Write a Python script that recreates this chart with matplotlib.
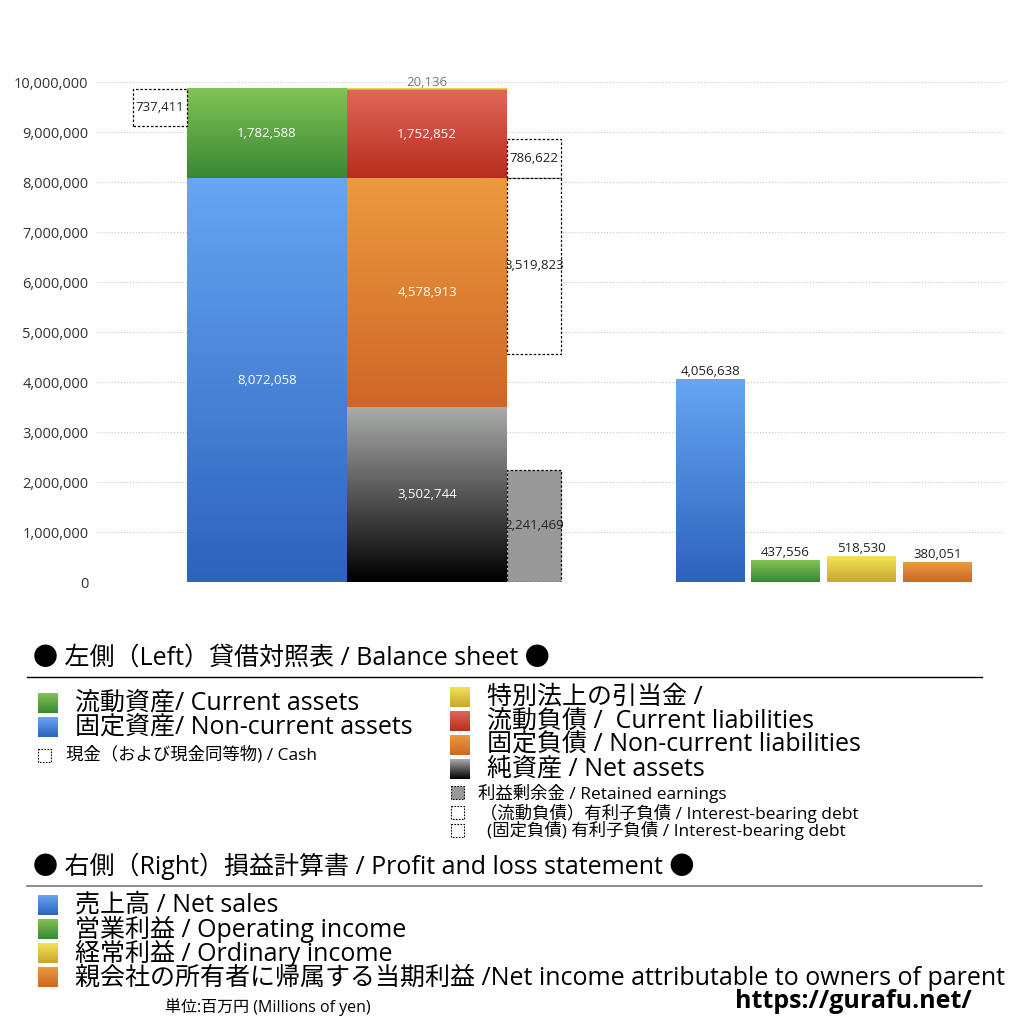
import numpy as np
import matplotlib
matplotlib.use("Agg")
import matplotlib.pyplot as plt
import matplotlib.colors as mcolors
from matplotlib.patches import Rectangle

plt.rcParams['font.family'] = ['Open Sans', 'Noto Sans CJK JP', 'DejaVu Sans']

# 貸借対照表 (百万円)
current_assets = 1782588
noncurrent_assets = 8072058
cash = 737411
net_assets = 3502744
noncurrent_liab = 4578913
current_liab = 1752852
special_reserve = 20136
retained_earnings = 2241469
cur_debt = 786622
fixed_debt = 3519823

# 損益計算書
pl_names = ["売上高", "営業利益", "経常利益", "当期利益"]
pl_values = [4056638, 437556, 518530, 380051]

yticks = [0, 1000000, 2000000, 3000000, 4000000, 5000000,
          6000000, 7000000, 8000000, 9000000, 10000000]

BLUE = ("#66a6f2", "#2e62bd")
GREEN = ("#82c355", "#388833")
RED = ("#e0665a", "#b72e1c")
ORANGE = ("#eb9a3e", "#cf6628")
BLACK = ("#aaacaa", "#000000")
YELLOW = ("#f3e455", "#c8a530")


def grad(ax, x0, x1, y0, y1, cols, z=2):
    t = np.linspace(0, 1, 128)[:, None]
    top = np.array(mcolors.to_rgb(cols[0]))
    bot = np.array(mcolors.to_rgb(cols[1]))
    arr = ((1 - t) * top + t * bot)[:, None, :]
    ax.imshow(arr, extent=(x0, x1, y0, y1), origin='upper', aspect='auto',
              interpolation='bilinear', zorder=z)


fig = plt.figure(figsize=(10.24, 10.24), dpi=100)
W = 1024
ax = fig.add_axes([97 / W, (W - 582) / W, (1005 - 97) / W, 500 / W])

VAL = 9.5

# 左側: 資産
grad(ax, 187, 347, 0, noncurrent_assets, BLUE)
grad(ax, 187, 347, noncurrent_assets, noncurrent_assets + current_assets, GREEN)
total_assets = noncurrent_assets + current_assets
ax.add_patch(Rectangle((133, total_assets - cash), 54, cash, fill=True, fc='white',
                       ec='black', ls=(0, (2, 1.5)), lw=0.9, zorder=3))
ax.text(160, total_assets - cash / 2, f"{cash:,}", ha='center', va='center',
        fontsize=VAL, color='#222', zorder=4)
ax.text(267, noncurrent_assets / 2, f"{noncurrent_assets:,}", ha='center', va='center',
        fontsize=VAL, color='white', zorder=4)
ax.text(267, noncurrent_assets + current_assets / 2, f"{current_assets:,}", ha='center',
        va='center', fontsize=VAL, color='white', zorder=4)

# 左側: 負債・純資産
y1 = net_assets
y2 = y1 + noncurrent_liab
y3 = y2 + current_liab
y4 = y3 + special_reserve
grad(ax, 347, 507, 0, y1, BLACK)
grad(ax, 347, 507, y1, y2, ORANGE)
grad(ax, 347, 507, y2, y3, RED)
grad(ax, 347, 507, y3, y4, YELLOW)
ax.text(427, y1 / 2, f"{net_assets:,}", ha='center', va='center', fontsize=VAL,
        color='white', zorder=4)
ax.text(427, (y1 + y2) / 2, f"{noncurrent_liab:,}", ha='center', va='center',
        fontsize=VAL, color='white', zorder=4)
ax.text(427, (y2 + y3) / 2, f"{current_liab:,}", ha='center', va='center',
        fontsize=VAL, color='white', zorder=4)
ax.text(427, y4 + 10000, f"{special_reserve:,}", ha='center', va='bottom',
        fontsize=VAL, color='#777', zorder=4, clip_on=False)

# 利益剰余金・有利子負債
ax.add_patch(Rectangle((507, 0), 54, retained_earnings, fc='#999999', ec='black',
                       ls=(0, (2, 1.5)), lw=0.9, zorder=3))
ax.text(534, retained_earnings / 2, f"{retained_earnings:,}", ha='center', va='center',
        fontsize=VAL, color='#222', zorder=4)
ax.add_patch(Rectangle((507, y2), 54, cur_debt, fc='white', ec='black',
                       ls=(0, (2, 1.5)), lw=0.9, zorder=3))
ax.text(534, y2 + cur_debt / 2, f"{cur_debt:,}", ha='center', va='center',
        fontsize=VAL, color='#222', zorder=4)
ax.add_patch(Rectangle((507, y2 - fixed_debt), 54, fixed_debt, fc='white', ec='black',
                       ls=(0, (2, 1.5)), lw=0.9, zorder=3))
ax.text(534, y2 - fixed_debt / 2, f"{fixed_debt:,}", ha='center', va='center',
        fontsize=VAL, color='#222', zorder=4)

# 右側: 損益計算書
pl_x = [676, 751, 827, 903]
pl_cols = [BLUE, GREEN, YELLOW, ORANGE]
for x, v, c in zip(pl_x, pl_values, pl_cols):
    grad(ax, x, x + 69, 0, v, c)
    ax.text(x + 34.5, v + 30000, f"{v:,}", ha='center', va='bottom', fontsize=VAL,
            color='#222', zorder=4)

ax.set_xlim(97, 1005)
ax.set_ylim(0, 10000000)
ax.set_yticks(yticks)
ax.set_yticklabels([f"{v:,}" for v in yticks], fontsize=10.5, color='#333')
ax.set_xticks([])
ax.tick_params(axis='y', length=0, pad=6)
for s in ax.spines.values():
    s.set_visible(False)
ax.grid(axis='y', ls=':', color='#c8c8c8', lw=0.8, zorder=0)
ax.set_axisbelow(True)

# 凡例 (ピクセル座標)
lg = fig.add_axes([0, 0, 1, 1], zorder=5)
lg.set_xlim(0, W)
lg.set_ylim(W, 0)
lg.axis('off')
lg.patch.set_alpha(0)

BIG = 18
SMALL = 12.5


def sq(x, y, cols, size=20):
    grad(lg, x, x + size, y + size, y, cols, z=6)


def dsq(x, y, fc='white', size=13):
    lg.add_patch(Rectangle((x, y), size, size, fc=fc, ec='black', ls=(0, (1.5, 1.2)),
                           lw=0.8, zorder=6))


lg.text(33, 658, "● 左側（Left）貸借対照表 / Balance sheet ●", fontsize=BIG,
        va='center', ha='left')
lg.plot([27, 982], [677, 677], color='black', lw=1)

sq(38, 693, GREEN)
lg.text(75, 703, "流動資産/ Current assets", fontsize=BIG, va='center')
sq(38, 717, BLUE)
lg.text(75, 727, "固定資産/ Non-current assets", fontsize=BIG, va='center')
dsq(38, 749)
lg.text(66, 755, "現金（および現金同等物) / Cash", fontsize=SMALL, va='center')

sq(450, 687, YELLOW)
lg.text(487, 697, "特別法上の引当金 /", fontsize=BIG, va='center')
sq(450, 711, RED)
lg.text(487, 721, "流動負債 /  Current liabilities", fontsize=BIG, va='center')
sq(450, 735, ORANGE)
lg.text(487, 745, "固定負債 / Non-current liabilities", fontsize=BIG, va='center')
sq(450, 759, BLACK)
lg.text(487, 769, "純資産 / Net assets", fontsize=BIG, va='center')
dsq(451, 786, fc='#999999')
lg.text(478, 793, "利益剰余金 / Retained earnings", fontsize=SMALL, va='center')
dsq(451, 806)
lg.text(480, 813, "（流動負債）有利子負債 / Interest-bearing debt", fontsize=SMALL,
        va='center')
dsq(451, 824)
lg.text(487, 831, "(固定負債) 有利子負債 / Interest-bearing debt", fontsize=SMALL,
        va='center')

lg.text(33, 866, "● 右側（Right）損益計算書 / Profit and loss statement ●",
        fontsize=BIG, va='center', ha='left')
lg.plot([27, 982], [886, 886], color='#777', lw=1.2)

sq(38, 895, BLUE)
lg.text(75, 905, "売上高 / Net sales", fontsize=BIG, va='center')
sq(38, 919, GREEN)
lg.text(75, 929, "営業利益 / Operating income", fontsize=BIG, va='center')
sq(38, 943, YELLOW)
lg.text(75, 953, "経常利益 / Ordinary income", fontsize=BIG, va='center')
sq(38, 967, ORANGE)
lg.text(75, 977, "親会社の所有者に帰属する当期利益 /Net income attributable to owners of parent",
        fontsize=BIG, va='center')

lg.text(165, 1007, "単位:百万円 (Millions of yen)", fontsize=11.5, va='center')
lg.text(972, 1002, "https://gurafu.net/", fontsize=18, fontweight='bold',
        va='center', ha='right')

fig.savefig("out.png", dpi=100)
